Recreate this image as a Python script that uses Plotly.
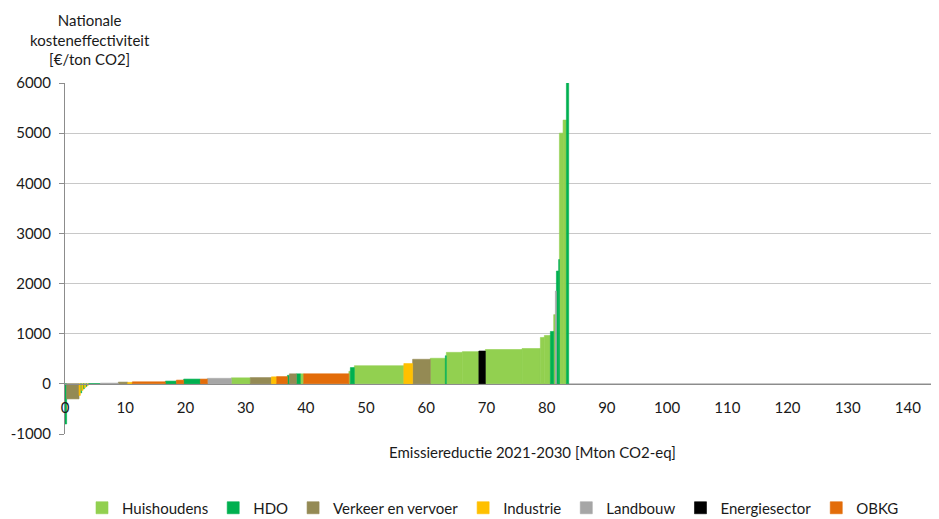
import plotly.graph_objects as go

# Measures in order along the cost curve
sectors = ["HDO", "Verkeer en vervoer", "Industrie", "HDO", "Industrie", "HDO", "Industrie", "HDO", "Industrie",
           "HDO", "Landbouw", "Verkeer en vervoer", "Industrie", "OBKG", "HDO", "OBKG", "HDO", "OBKG",
           "Landbouw", "Huishoudens", "Verkeer en vervoer", "Industrie", "OBKG", "HDO", "Verkeer en vervoer",
           "HDO", "Huishoudens", "OBKG", "Huishoudens", "HDO", "Huishoudens", "Industrie", "Verkeer en vervoer",
           "Huishoudens", "HDO", "Huishoudens", "Huishoudens", "Energiesector", "Huishoudens", "Huishoudens",
           "Huishoudens", "Huishoudens", "HDO", "Huishoudens", "Landbouw", "HDO", "HDO", "Huishoudens",
           "Huishoudens", "HDO"]
widths = [0.27, 2.06, 0.22, 0.22, 0.23, 0.22, 0.22, 0.22, 0.22,
          1.99, 2.99, 1.55, 0.78, 5.48, 1.83, 1.21, 2.77, 1.16,
          3.99, 3.16, 3.49, 0.88, 1.78, 0.33, 1.16,
          0.66, 0.55, 7.51, 0.25, 0.66, 8.22, 1.46, 2.94,
          2.49, 0.17, 2.66, 2.74, 1.08, 6.10, 3.04,
          0.66, 1.00, 0.55, 0.28, 0.17, 0.38, 0.12, 0.61,
          0.55, 0.38]
values = [-800, -300, -230, -180, -130, -100, -75, -50, -30,
          2, 15, 35, 30, 40, 55, 75, 95, 95,
          110, 120, 125, 140, 145, 170, 200,
          200, 200, 200, 250, 325, 362, 405, 490,
          510, 560, 628, 642, 655, 685, 705,
          925, 965, 1045, 1380, 1850, 2250, 2480, 5000,
          5260, 6500]

legend_order = ["Huishoudens", "HDO", "Verkeer en vervoer", "Industrie", "Landbouw", "Energiesector", "OBKG"]
colors = {"Huishoudens": "#92D050", "HDO": "#00B050", "Verkeer en vervoer": "#948A54",
          "Industrie": "#FFC000", "Landbouw": "#A6A6A6", "Energiesector": "#000000", "OBKG": "#E36C09"}

x_ticks = list(range(0, 150, 10))
y_ticks = list(range(-1000, 7000, 1000))

starts = []
acc = 0.0
for w in widths:
    starts.append(acc)
    acc += w

fig = go.Figure()
for s in legend_order:
    idx = [i for i, sec in enumerate(sectors) if sec == s]
    fig.add_trace(go.Bar(
        x=[starts[i] + widths[i] / 2 for i in idx],
        y=[values[i] for i in idx],
        width=[widths[i] for i in idx],
        name=s,
        marker=dict(color=colors[s], line=dict(width=0.6, color=colors[s])),
    ))

# page has an 8px body margin, so the figure is sized to fit the window
W, H = 931, 511
font_fam = "Lato, 'Open Sans', sans-serif"
fig.update_layout(
    width=W, height=H,
    margin=dict(l=57, r=1, t=75, b=85, autoexpand=False),
    plot_bgcolor="white", paper_bgcolor="white",
    barmode="overlay",
    font=dict(family=font_fam, size=15, color="#1a1a1a"),
    showlegend=True,
    legend=dict(orientation="h", x=485 / W, xref="container", xanchor="center",
                y=(H - 500) / H, yref="container", yanchor="middle",
                font=dict(size=15), itemwidth=30, tracegroupgap=0),
    xaxis=dict(range=[0, 145], tickmode="array", tickvals=x_ticks, ticktext=[str(v) for v in x_ticks],
               anchor="free", position=1 / 7, showline=True, linecolor="#8c8c8c", linewidth=1.2,
               showgrid=False, zeroline=False, ticks="", ticklabelstandoff=10, automargin=False),
    yaxis=dict(range=[-1000, 6000], tickmode="array", tickvals=y_ticks, ticktext=[str(v) for v in y_ticks],
               showline=True, linecolor="#8c8c8c", linewidth=1, ticks="outside", ticklen=5,
               tickcolor="#8c8c8c", showgrid=True, gridcolor="#c8c8c8", zeroline=False, automargin=False,
               ticklabelstandoff=5),
    annotations=[
        dict(text="Nationale<br>kosteneffectiviteit<br>[€/ton CO2]", xref="paper", yref="paper",
             x=(90 - 65) / 873, y=(434 - 40) / 351, xanchor="center", yanchor="middle",
             showarrow=False, font=dict(size=15)),
        dict(text="Emissiereductie 2021-2030 [Mton CO2-eq]", xref="paper", yref="paper",
             x=(532 - 65) / 873, y=(434 - 452) / 351, xanchor="center", yanchor="middle",
             showarrow=False, font=dict(size=15)),
    ],
)

fig.write_html("out.html")
